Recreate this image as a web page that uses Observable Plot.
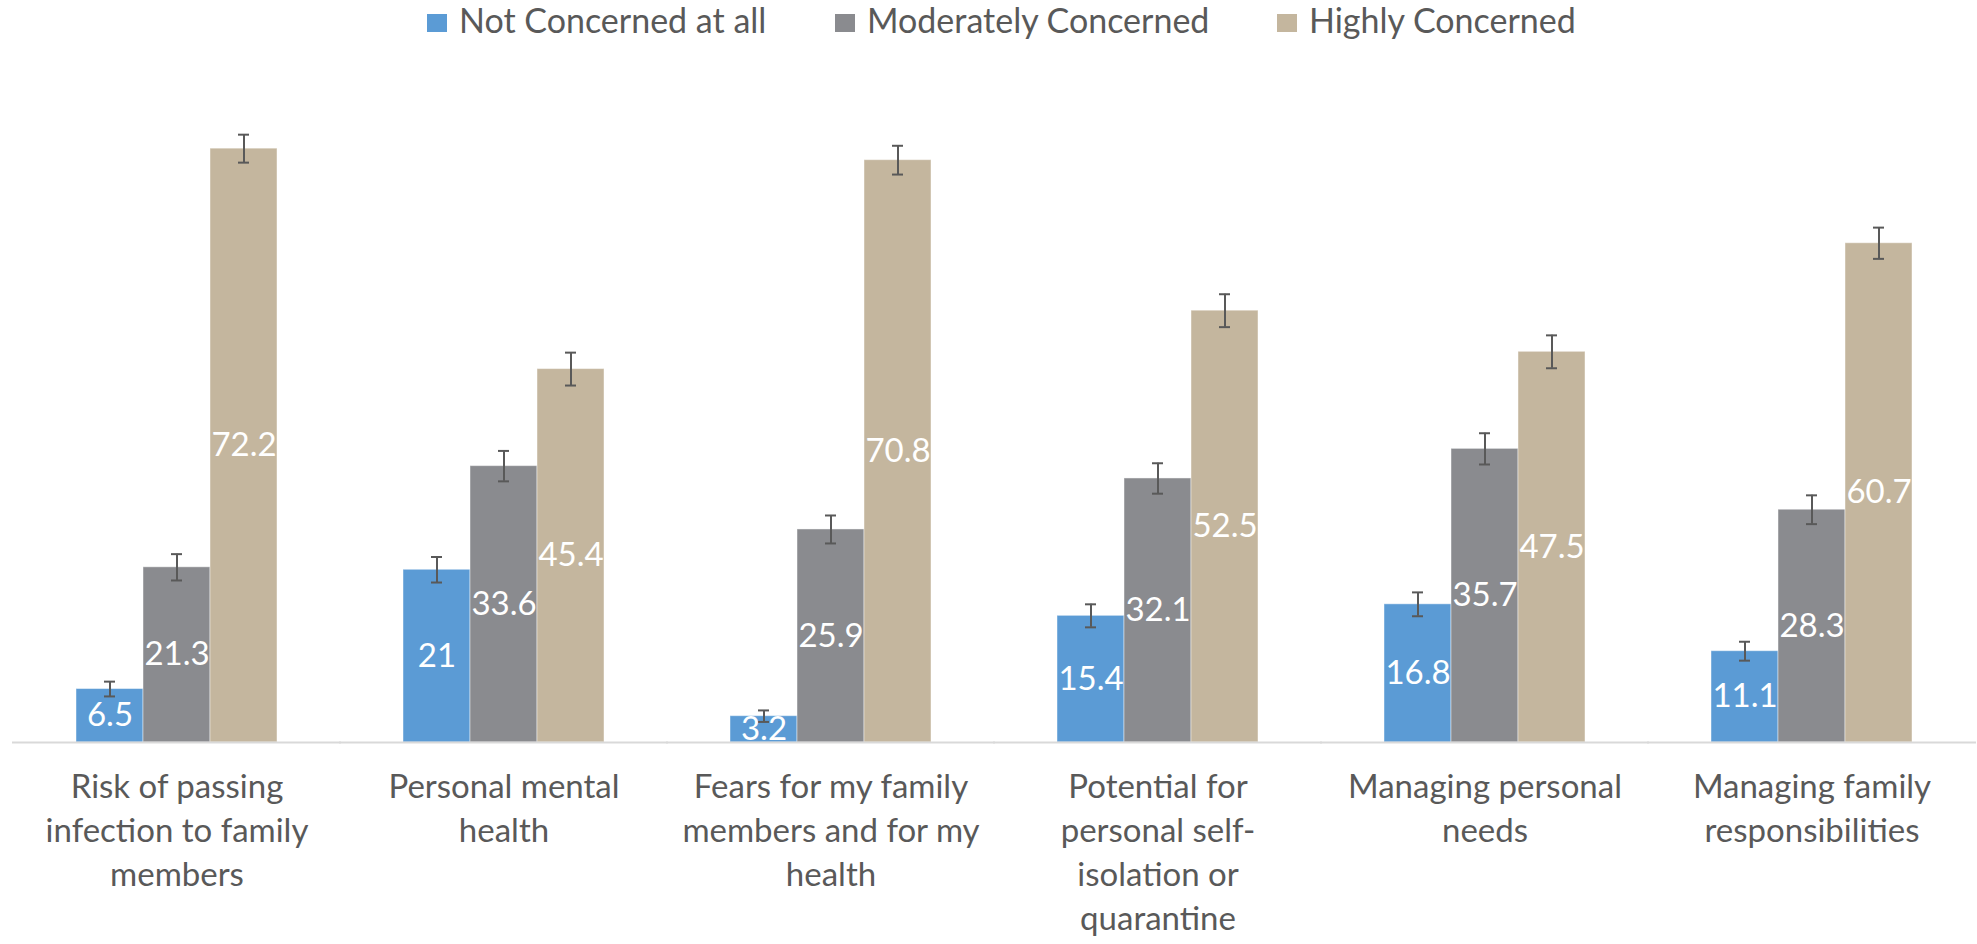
<!DOCTYPE html>
<html>
<head>
<meta charset="utf-8">
<script src="https://cdn.jsdelivr.net/npm/d3@7"></script>
<script src="https://cdn.jsdelivr.net/npm/@observablehq/plot@0.6"></script>
<style>
  html, body { margin: 0; padding: 0; background: #fff; }
  body { width: 1977px; height: 944px; overflow: hidden; font-family: Lato, "Noto Sans", sans-serif; }
  #legend { position: relative; height: 45px; }
  .item { position: absolute; top: -3px; height: 45px; display: flex; align-items: center; font-size: 34px; color: #595959; white-space: nowrap; }
  .sw { width: 20px; height: 18px; margin-right: 12px; margin-top: 6px; }
</style>
</head>
<body>
<div id="legend"></div>
<div id="chart"></div>
<script>
const categories = [
  "Risk of passing infection to family members",
  "Personal mental health",
  "Fears for my family members and for my health",
  "Potential for personal self-isolation or quarantine",
  "Managing personal needs",
  "Managing family responsibilities"
];
const categoryLabels = [
  "Risk of passing\ninfection to family\nmembers",
  "Personal mental\nhealth",
  "Fears for my family\nmembers and for my\nhealth",
  "Potential for\npersonal self-\nisolation or\nquarantine",
  "Managing personal\nneeds",
  "Managing family\nresponsibilities"
];
const seriesNames = ["Not Concerned at all", "Moderately Concerned", "Highly Concerned"];
const seriesColors = ["#5B9BD5", "#8A8B8F", "#C4B69E"];
const notConcerned = [6.5, 21, 3.2, 15.4, 16.8, 11.1];
const moderatelyConcerned = [21.3, 33.6, 25.9, 32.1, 35.7, 28.3];
const highlyConcerned = [72.2, 45.4, 70.8, 52.5, 47.5, 60.7];
const errNot = [0.9, 1.55, 0.7, 1.4, 1.45, 1.15];
const errModerate = [1.6, 1.85, 1.7, 1.85, 1.9, 1.75];
const errHigh = [1.7, 2.0, 1.75, 2.0, 2.0, 1.9];
const legendLeft = [427, 835, 1277];

const valueSets = [notConcerned, moderatelyConcerned, highlyConcerned];
const errSets = [errNot, errModerate, errHigh];
const data = [];
categories.forEach((c, i) => {
  seriesNames.forEach((s, j) => {
    data.push({category: c, series: s, value: valueSets[j][i], err: errSets[j][i]});
  });
});

// legend
const legend = document.getElementById("legend");
seriesNames.forEach((s, j) => {
  const it = document.createElement("div");
  it.className = "item";
  it.style.left = legendLeft[j] + "px";
  const sw = document.createElement("span");
  sw.className = "sw";
  sw.style.background = seriesColors[j];
  it.appendChild(sw);
  it.appendChild(document.createTextNode(s));
  legend.appendChild(it);
});

const fontSize = 33;
const chart = Plot.plot({
  width: 1977,
  height: 899,
  marginLeft: 12,
  marginRight: 1,
  marginTop: 39,
  marginBottom: 202,
  style: {fontFamily: "Lato, 'Noto Sans', sans-serif", background: "#fff"},
  fx: {domain: categories, paddingInner: 0.38, paddingOuter: 0.19, label: null},
  x: {domain: seriesNames, padding: 0, axis: null},
  y: {domain: [0, 80], axis: null},
  color: {domain: seriesNames, range: seriesColors},
  marks: [
    Plot.barY(data, {fx: "category", x: "series", y: "value", fill: "series", stroke: "#ffffff", strokeOpacity: 0.45, strokeWidth: 1}),
    Plot.ruleY([0], {stroke: "#d9d9d9", strokeWidth: 2, insetLeft: -63, insetRight: -63}),
    Plot.ruleX(data, {fx: "category", x: "series", y1: d => d.value - d.err, y2: d => d.value + d.err, stroke: "#595959", strokeWidth: 2}),
    Plot.tickY(data, {fx: "category", x: "series", y: d => d.value + d.err, stroke: "#595959", strokeWidth: 2, insetLeft: 28, insetRight: 28}),
    Plot.tickY(data, {fx: "category", x: "series", y: d => d.value - d.err, stroke: "#595959", strokeWidth: 2, insetLeft: 28, insetRight: 28}),
    Plot.text(data, {fx: "category", x: "series", y: d => d.value / 2, text: d => String(d.value), fill: "#ffffff", fontSize: fontSize}),
    Plot.axisFx({anchor: "bottom", tickSize: 0, tickPadding: 24, fontSize: fontSize, lineHeight: 44 / fontSize, fill: "#595959", label: null,
      tickFormat: c => categoryLabels[categories.indexOf(c)]})
  ]
});
document.getElementById("chart").appendChild(chart);
</script>
</body>
</html>
